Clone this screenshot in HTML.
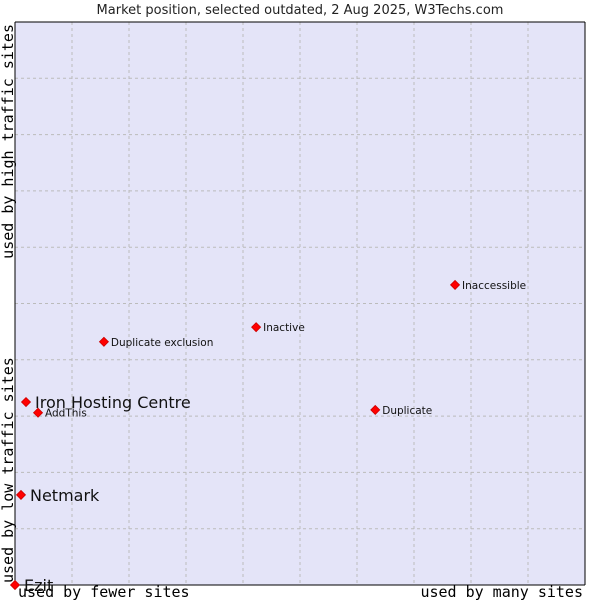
<!DOCTYPE html>
<html><head><meta charset="utf-8"><style>
body{margin:0;background:#fff;width:600px;height:600px;overflow:hidden}
svg{display:block}
</style></head><body>
<svg id="chart" width="600" height="600" xmlns="http://www.w3.org/2000/svg">
<text x="300" y="14" text-anchor="middle" font-family="DejaVu Sans, sans-serif" font-size="13" fill="#222">Market position, selected outdated, 2 Aug 2025, W3Techs.com</text>
<rect x="15" y="22" width="570" height="563" fill="#e4e4f8"/>
<g id="grid"></g>
<line x1="15" y1="22" x2="15" y2="585" stroke="#000"/>
<line x1="15" y1="585" x2="585" y2="585" stroke="#000"/>
<line x1="15" y1="22" x2="585" y2="22" stroke="#000"/>
<line x1="585" y1="22" x2="585" y2="585" stroke="#000"/>
<text x="18" y="597" font-family="DejaVu Sans Mono, monospace" font-size="15" fill="#000">used by fewer sites</text>
<text x="583" y="597" text-anchor="end" font-family="DejaVu Sans Mono, monospace" font-size="15" fill="#000">used by many sites</text>
<text transform="translate(13,583) rotate(-90)" font-family="DejaVu Sans Mono, monospace" font-size="15" fill="#000">used by low traffic sites</text>
<text transform="translate(13,24) rotate(-90)" text-anchor="end" font-family="DejaVu Sans Mono, monospace" font-size="15" fill="#000">used by high traffic sites</text>
<g id="points"></g>
</svg>
<script>
const names = ["Ezit","Netmark","Iron Hosting Centre","AddThis","Duplicate exclusion","Inactive","Inaccessible","Duplicate"];
const xValues = [0,1.05,1.93,4.04,15.6,42.3,77.2,63.2];
const yValues = [0,16.0,32.5,30.6,43.2,45.8,53.3,31.1];
const bigLabel = [true,true,true,false,false,false,false,false];
const NS="http://www.w3.org/2000/svg";
const L=15,T=22,W=570,H=563;
function xs(v){return L+v/100*W;}
function ys(v){return T+H-v/100*H;}
const grid=document.getElementById('grid');
for(let i=1;i<10;i++){
  const v=document.createElementNS(NS,'line');
  v.setAttribute('x1',xs(i*10));v.setAttribute('x2',xs(i*10));v.setAttribute('y1',T);v.setAttribute('y2',T+H);
  v.setAttribute('stroke','#bbb');v.setAttribute('stroke-dasharray','3,3');
  
  
  grid.appendChild(v);
  const h=document.createElementNS(NS,'line');
  h.setAttribute('y1',ys(i*10));h.setAttribute('y2',ys(i*10));h.setAttribute('x1',L);h.setAttribute('x2',L+W);
  h.setAttribute('stroke','#bbb');h.setAttribute('stroke-dasharray','3,3');
  
  
  grid.appendChild(h);
}
const pts=document.getElementById('points');
names.forEach((n,i)=>{
  const x=xs(xValues[i]),y=ys(yValues[i]);
  const d=document.createElementNS(NS,'path');
  d.setAttribute('d',`M${x-4.5},${y}L${x},${y-4.5}L${x+4.5},${y}L${x},${y+4.5}Z`);
  d.setAttribute('fill','#f00');d.setAttribute('stroke','#c00');d.setAttribute('stroke-width','0.8');
  
  
  pts.appendChild(d);
  const t=document.createElementNS(NS,'text');
  t.setAttribute('x',x+(bigLabel[i]?9:7));
  t.setAttribute('y',y+(bigLabel[i]?6:4));
  t.setAttribute('font-family','DejaVu Sans, sans-serif');
  t.setAttribute('font-size',bigLabel[i]?'16':'10.5');
  t.setAttribute('fill','#111');
  t.textContent=n;
  
  
  pts.appendChild(t);
});
</script>
</body></html>
